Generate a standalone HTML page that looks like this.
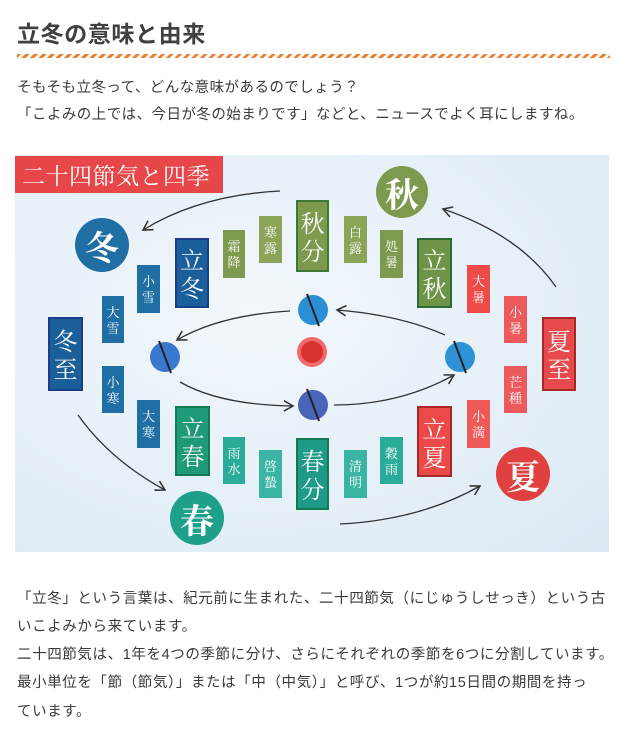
<!DOCTYPE html>
<html><head><meta charset="utf-8"><style>
*{margin:0;padding:0;box-sizing:border-box}
body{width:621px;height:739px;background:#fff;font-family:"Liberation Sans","Noto Sans CJK JP",sans-serif;color:#3a3a3a;position:relative;overflow:hidden}
h1{position:absolute;left:17px;top:15px;font-size:23px;font-weight:bold;color:#404040;letter-spacing:0.6px}
.dash{position:absolute;left:17px;top:54px;width:593px;height:4px;background:repeating-linear-gradient(135deg,#ee7f2d 0 3px,transparent 3px 6px)}
.p{position:absolute;left:17px;font-size:14.5px;white-space:nowrap;color:#3a3a3a;letter-spacing:0.45px}
.q{letter-spacing:0.6px}
#dg{position:absolute;left:15px;top:155px;width:594px;height:397px;background:radial-gradient(ellipse at 40% 40%,#f2f7fb,#e2eef7 70%,#dce9f4)}
.b{position:absolute;color:#fff;text-align:center;font-family:"Noto Serif CJK SC","Liberation Serif",serif;display:flex;flex-direction:column;justify-content:center;align-items:center}
.s{font-size:13px;line-height:16px}
.L{font-size:24px;line-height:28px;border:2px solid}
.c{position:absolute;border-radius:50%;color:#fff;font-family:"Noto Serif CJK SC","Liberation Serif",serif;font-size:34px;font-weight:bold;display:flex;align-items:center;justify-content:center}
</style></head><body>
<h1>立冬の意味と由来</h1>
<div class="dash"></div>
<div class="p" style="top:76px">そもそも立冬って、どんな意味があるのでしょう？</div>
<div class="p" style="top:103px">「こよみの上では、今日が冬の始まりです」などと、ニュースでよく耳にしますね。</div>

<div id="dg"></div>
<div style="position:absolute;left:15px;top:156px;width:208px;height:37px;background:#e8474a;color:#fff;font-size:23px;font-family:'Noto Serif CJK SC',serif;line-height:37px;padding-left:7px;letter-spacing:0.5px;white-space:nowrap">二十四節気と四季</div>

<svg style="position:absolute;left:0;top:0" width="621" height="739">
<defs><marker id="a" markerWidth="10" markerHeight="10" refX="8" refY="5" orient="auto"><path d="M1,1 L8,5 L1,9" fill="none" stroke="#333" stroke-width="1.2"/></marker></defs>
<g fill="none" stroke="#333" stroke-width="1.3" marker-end="url(#a)">
<path d="M280,191 Q200,195 143,230"/>
<path d="M78,415 Q110,460 165,490"/>
<path d="M340,524 Q420,520 480,486"/>
<path d="M556,287 Q520,235 443,209"/>
<path d="M290,311 Q220,315 177,340"/>
<path d="M180,382 Q220,405 293,406"/>
<path d="M334,405 Q400,405 454,375"/>
<path d="M445,335 Q400,315 337,310"/>
</g>
<g>
<circle cx="312" cy="352" r="15" fill="#f06a6a"/>
<circle cx="312" cy="352" r="11" fill="#d9332f"/>
<circle cx="313" cy="310" r="15" fill="#2b8fd8"/><line x1="307" y1="294" x2="319" y2="326" stroke="#222" stroke-width="2"/>
<circle cx="165" cy="357" r="15" fill="#3a78cf"/><line x1="159" y1="341" x2="171" y2="373" stroke="#222" stroke-width="2"/>
<circle cx="313" cy="405" r="15" fill="#4a63bb"/><line x1="307" y1="389" x2="319" y2="421" stroke="#222" stroke-width="2"/>
<circle cx="460" cy="357" r="15" fill="#2e92d6"/><line x1="454" y1="341" x2="466" y2="373" stroke="#222" stroke-width="2"/>
</g>
</svg>

<div class="c" style="left:75px;top:218px;width:54px;height:54px;background:#1f6fa5">冬</div>
<div class="c" style="left:170px;top:491px;width:54px;height:54px;background:#1fa08a">春</div>
<div class="c" style="left:376px;top:166px;width:52px;height:52px;background:#7d9a4e">秋</div>
<div class="c" style="left:496px;top:447px;width:54px;height:54px;background:#e04040">夏</div>

<div class="b L" style="left:175px;top:238px;width:34px;height:70px;background:#1b5f9a;border-color:#1a3f8a">立<br>冬</div>
<div class="b L" style="left:48px;top:317px;width:35px;height:74px;background:#1b5f9a;border-color:#1a3f8a">冬<br>至</div>
<div class="b L" style="left:175px;top:406px;width:35px;height:70px;background:#1f9a78;border-color:#137a55">立<br>春</div>
<div class="b L" style="left:296px;top:438px;width:33px;height:72px;background:#1f9a88;border-color:#137a55">春<br>分</div>
<div class="b L" style="left:296px;top:200px;width:33px;height:72px;background:#7d9a4e;border-color:#3f7a35">秋<br>分</div>
<div class="b L" style="left:417px;top:238px;width:35px;height:70px;background:#6e9448;border-color:#2f6a35">立<br>秋</div>
<div class="b L" style="left:542px;top:317px;width:34px;height:74px;background:#e64a4c;border-color:#a82828">夏<br>至</div>
<div class="b L" style="left:417px;top:406px;width:35px;height:71px;background:#ec4a48;border-color:#a82828">立<br>夏</div>

<div class="b s" style="left:137px;top:265px;width:23px;height:48px;background:#1f6fa5">小<br>雪</div>
<div class="b s" style="left:102px;top:296px;width:22px;height:47px;background:#1f6fa5">大<br>雪</div>
<div class="b s" style="left:102px;top:366px;width:22px;height:47px;background:#1f6fa5">小<br>寒</div>
<div class="b s" style="left:137px;top:400px;width:23px;height:48px;background:#1f6fa5">大<br>寒</div>
<div class="b s" style="left:223px;top:230px;width:22px;height:48px;background:#7d9a4e">霜<br>降</div>
<div class="b s" style="left:259px;top:216px;width:23px;height:47px;background:#8aa558">寒<br>露</div>
<div class="b s" style="left:344px;top:216px;width:23px;height:47px;background:#8aa558">白<br>露</div>
<div class="b s" style="left:380px;top:230px;width:23px;height:48px;background:#7d9a4e">処<br>暑</div>
<div class="b s" style="left:467px;top:265px;width:23px;height:48px;background:#ee4a48">大<br>暑</div>
<div class="b s" style="left:504px;top:296px;width:23px;height:47px;background:#ec5a5e">小<br>暑</div>
<div class="b s" style="left:504px;top:366px;width:23px;height:47px;background:#ec5a5e">芒<br>種</div>
<div class="b s" style="left:467px;top:400px;width:23px;height:48px;background:#ee5a58">小<br>満</div>
<div class="b s" style="left:223px;top:437px;width:22px;height:47px;background:#2bab9a">雨<br>水</div>
<div class="b s" style="left:259px;top:450px;width:23px;height:48px;background:#3ab5a4">啓<br>蟄</div>
<div class="b s" style="left:344px;top:450px;width:23px;height:48px;background:#3ab5a4">清<br>明</div>
<div class="b s" style="left:380px;top:437px;width:23px;height:47px;background:#2bab9a">穀<br>雨</div>

<div class="p q" style="top:587px">「立冬」という言葉は、紀元前に生まれた、二十四節気（にじゅうしせっき）という古</div>
<div class="p q" style="top:615px">いこよみから来ています。</div>
<div class="p q" style="top:643px">二十四節気は、1年を4つの季節に分け、さらにそれぞれの季節を6つに分割しています。</div>
<div class="p q" style="top:671px">最小単位を「節（節気）」または「中（中気）」と呼び、1つが約15日間の期間を持っ</div>
<div class="p q" style="top:700px">ています。</div>
</body></html>
